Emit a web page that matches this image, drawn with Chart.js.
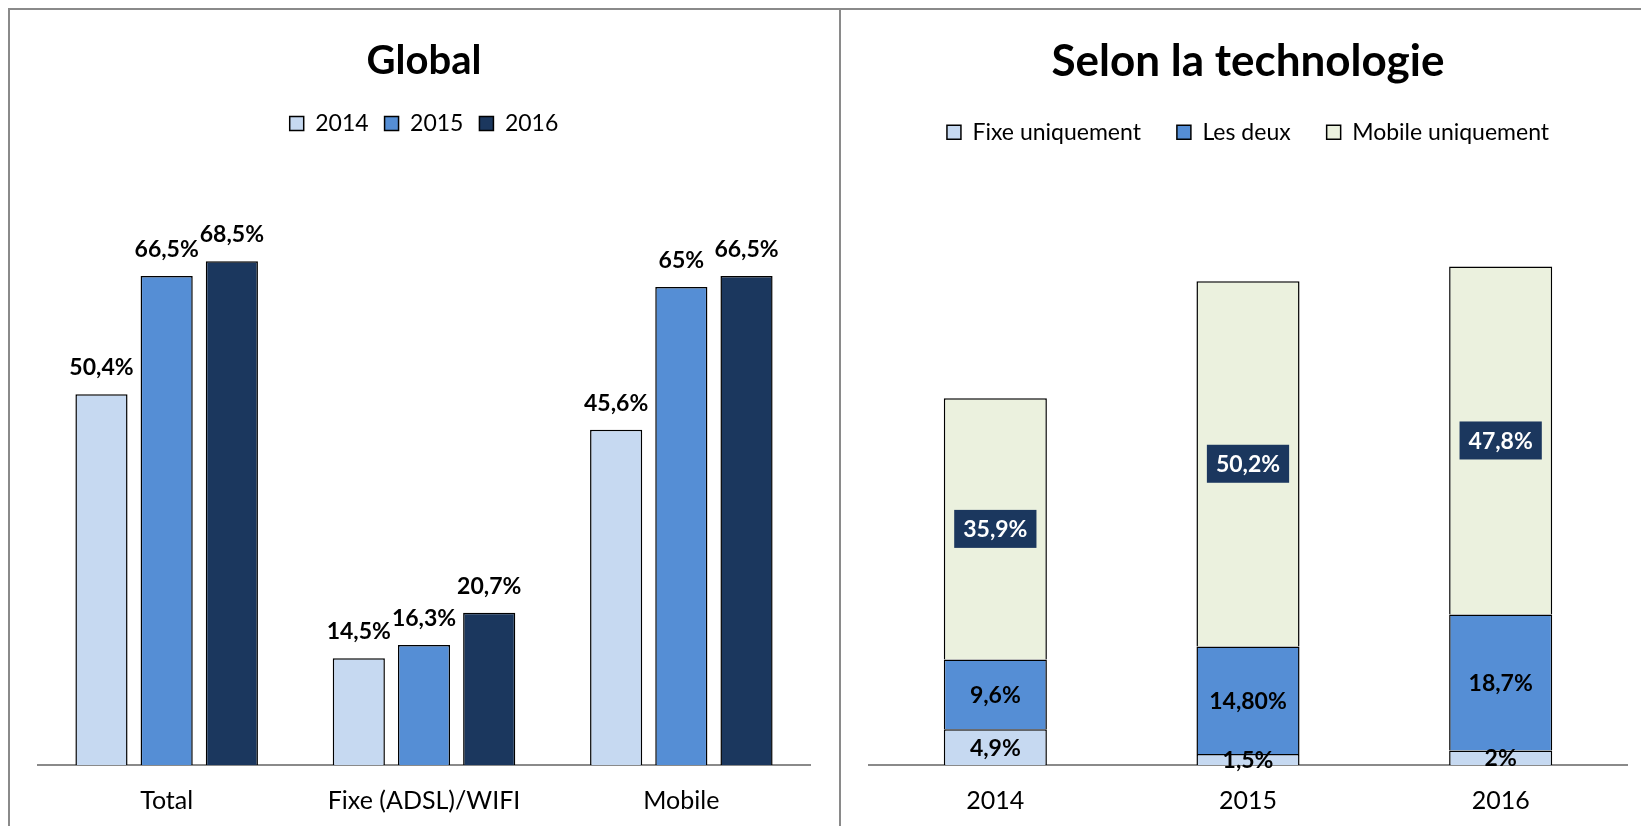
<!DOCTYPE html>
<html>
<head>
<meta charset="utf-8">
<script src="https://cdn.jsdelivr.net/npm/chart.js@4.4.0/dist/chart.umd.min.js"></script>
<style>
    body { margin: 0; background: #fff; width: 1641px; height: 826px; overflow: hidden; position: relative; }
    canvas { position: absolute; top: 0; }
    #global_chart { left: 0; }
    #techno_chart { left: 840px; }
    .line { position: absolute; background: #8a8a8a; }
</style>
</head>
<body>
<div class="line" style="left:8px; top:8px; width:1633px; height:2px;"></div>
<div class="line" style="left:8px; top:8px; width:2px; height:818px;"></div>
<div class="line" style="left:839px; top:8px; width:2px; height:818px;"></div>
<canvas id="global_chart" width="840" height="837"></canvas>
<canvas id="techno_chart" width="801" height="837"></canvas>
<script>
//Données
var global_categories = ['Total', 'Fixe (ADSL)/WIFI', 'Mobile'];
var global_2014 = [50.4, 14.5, 45.6];
var global_2015 = [66.5, 16.3, 65];
var global_2016 = [68.5, 20.7, 66.5];
var global_labels_2014 = ['50,4%', '14,5%', '45,6%'];
var global_labels_2015 = ['66,5%', '16,3%', '65%'];
var global_labels_2016 = ['68,5%', '20,7%', '66,5%'];

var techno_years = ['2014', '2015', '2016'];
var fixe_uniquement = [4.9, 1.5, 2];
var les_deux = [9.6, 14.8, 18.7];
var mobile_uniquement = [35.9, 50.2, 47.8];
var fixe_labels = ['4,9%', '1,5%', '2%'];
var deux_labels = ['9,6%', '14,80%', '18,7%'];
var mobile_labels = ['35,9%', '50,2%', '47,8%'];

var font_family = 'Lato, "Open Sans", sans-serif';
var c_light = '#c6d9f1';
var c_mid = '#558ed5';
var c_dark = '#1b375e';
var c_green = '#ebf1de';

Chart.defaults.font.family = font_family;
Chart.defaults.color = '#000';

/* --------------------- Etiquettes de données --------------------- */

var value_labels = {
    id: 'value_labels',
    afterDatasetsDraw: function (chart) {
        var ctx = chart.ctx;
        var stacked = chart.options.scales.x.stacked;
        chart.data.datasets.forEach(function (ds, i) {
            var meta = chart.getDatasetMeta(i);
            meta.data.forEach(function (bar, j) {
                var txt = ds.valueLabels[j];
                ctx.save();
                ctx.font = 'bold 23px ' + font_family;
                ctx.textAlign = 'center';
                if (!stacked) {
                    ctx.fillStyle = '#000';
                    ctx.textBaseline = 'alphabetic';
                    ctx.fillText(txt, bar.x, bar.y - 19);
                } else {
                    var cy = (bar.y + bar.base) / 2;
                    ctx.textBaseline = 'middle';
                    if (ds.labelBox) {
                        var w = ctx.measureText(txt).width + 18;
                        ctx.fillStyle = ds.labelBox;
                        ctx.fillRect(bar.x - w / 2, cy - 19, w, 38);
                        ctx.fillStyle = '#fff';
                    } else {
                        ctx.fillStyle = '#000';
                    }
                    ctx.fillText(txt, bar.x, cy + 1);
                }
                ctx.restore();
            });
        });
    }
};

/* --------------------- Graphique global --------------------- */

var ctx = document.getElementById('global_chart').getContext('2d');
var chart = new Chart(ctx, {
    type: 'bar',
    data: {
        labels: global_categories,
        datasets: [{
            label: '2014',
            data: global_2014,
            valueLabels: global_labels_2014,
            backgroundColor: c_light,
            borderColor: '#000',
            borderWidth: 1.5
        }, {
            label: '2015',
            data: global_2015,
            valueLabels: global_labels_2015,
            backgroundColor: c_mid,
            borderColor: '#000',
            borderWidth: 1.5
        }, {
            label: '2016',
            data: global_2016,
            valueLabels: global_labels_2016,
            backgroundColor: c_dark,
            borderColor: '#000',
            borderWidth: 1.5
        }]
    },
    options: {
        responsive: false,
        animation: false,
        layout: { padding: { left: 38, right: 30, top: 0, bottom: 0 } },
        datasets: { bar: { categoryPercentage: 0.76, barPercentage: 0.8 } },
        plugins: {
            title: {
                display: true,
                text: 'Global',
                font: { size: 40, weight: 'bold' },
                color: '#000',
                padding: { top: 37, bottom: 11 }
            },
            legend: {
                labels: {
                    boxWidth: 14,
                    boxHeight: 14,
                    padding: 16,
                    font: { size: 23 },
                    color: '#000'
                }
            },
            tooltip: { enabled: false }
        },
        scales: {
            x: {
                grid: { display: false, drawTicks: false },
                border: { color: '#8a8a8a', width: 2 },
                ticks: { padding: 21, font: { size: 25 }, color: '#000' }
            },
            y: { display: false, min: 0, max: 84.3 }
        }
    },
    plugins: [value_labels]
});

/* --------------------- Selon la technologie --------------------- */

var ctx2 = document.getElementById('techno_chart').getContext('2d');
var chart2 = new Chart(ctx2, {
    type: 'bar',
    data: {
        labels: techno_years,
        datasets: [{
            label: 'Fixe uniquement',
            data: fixe_uniquement,
            valueLabels: fixe_labels,
            backgroundColor: c_light,
            borderColor: '#000',
            borderWidth: 1.5
        }, {
            label: 'Les deux',
            data: les_deux,
            valueLabels: deux_labels,
            backgroundColor: c_mid,
            borderColor: '#000',
            borderWidth: 1.5
        }, {
            label: 'Mobile uniquement',
            data: mobile_uniquement,
            valueLabels: mobile_labels,
            labelBox: c_dark,
            backgroundColor: c_green,
            borderColor: '#000',
            borderWidth: 1.5
        }]
    },
    options: {
        responsive: false,
        animation: false,
        layout: { padding: { left: 29, right: 14, top: 0, bottom: 0 } },
        datasets: { bar: { categoryPercentage: 1, barPercentage: 0.408 } },
        plugins: {
            title: {
                display: true,
                text: 'Selon la technologie',
                font: { size: 44, weight: 'bold' },
                color: '#000',
                padding: { top: 35, bottom: -3 }
            },
            legend: {
                labels: {
                    boxWidth: 14,
                    boxHeight: 14,
                    padding: 36,
                    font: { size: 23 },
                    color: '#000'
                }
            },
            tooltip: { enabled: false }
        },
        scales: {
            x: {
                stacked: true,
                grid: { display: false, drawTicks: false },
                border: { color: '#8a8a8a', width: 2 },
                ticks: { padding: 21, font: { size: 25 }, color: '#000' }
            },
            y: { display: false, stacked: true, min: 0, max: 84.0 }
        }
    },
    plugins: [value_labels]
});
</script>
</body>
</html>
